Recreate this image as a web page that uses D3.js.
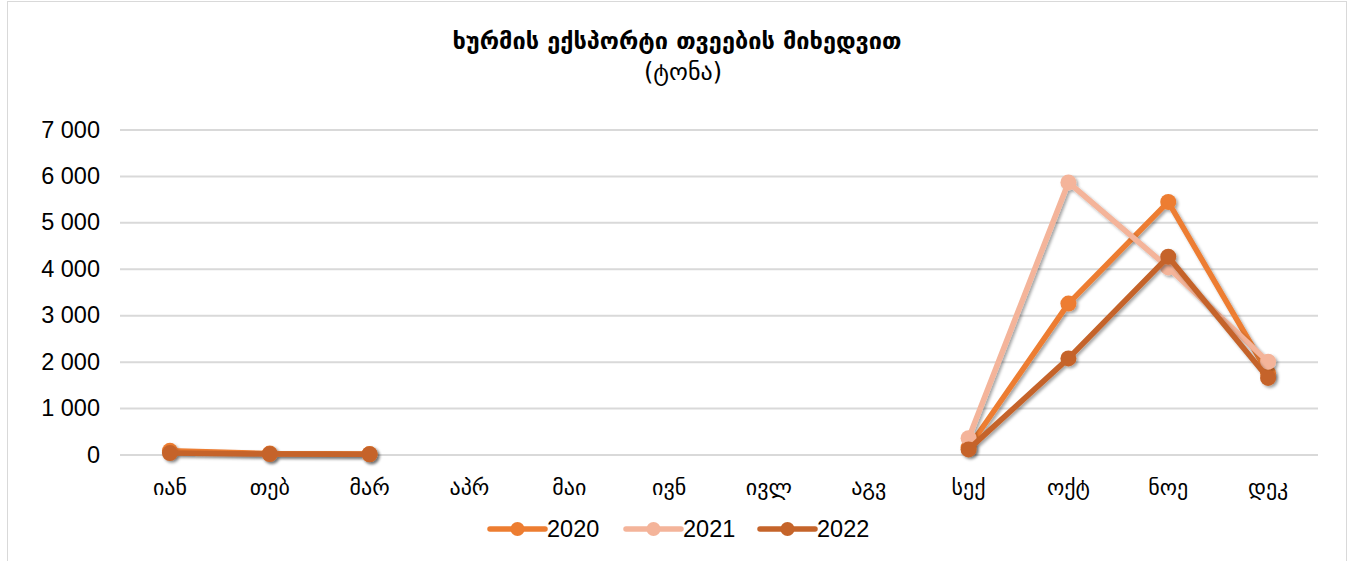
<!DOCTYPE html>
<html><head><meta charset="utf-8">
<script src="https://cdn.jsdelivr.net/npm/d3@7/dist/d3.min.js"></script>
<style>body{margin:0;background:#fff;}svg{display:block;}</style>
</head><body>
<svg id="c" width="1354" height="561"></svg>
<script>
const categories = ["იან","თებ","მარ","აპრ","მაი","ივნ","ივლ","აგვ","სექ","ოქტ","ნოე","დეკ"];
const seriesNames = ["2020","2021","2022"];
const values2020 = [80, 20, 10, null, null, null, null, null, 150, 3250, 5440, 1750];
const values2021 = [null, null, null, null, null, null, null, null, 350, 5860, 4030, 2000];
const values2022 = [30, 10, 5, null, null, null, null, null, 110, 2070, 4260, 1650];
const yTicks = [0,1000,2000,3000,4000,5000,6000,7000];
const colors = ["#ED7D31","#F4B49A","#C5642A"];
const title = "ხურმის ექსპორტი თვეების მიხედვით";
const subtitle = "(ტონა)";

(function(){
const svg = d3.select("#c");
const defs = svg.append("defs");
const f = defs.append("filter").attr("id","sh").attr("x","-20%").attr("y","-20%").attr("width","140%").attr("height","140%");
f.append("feDropShadow").attr("dx",2).attr("dy",2).attr("stdDeviation",1.5).attr("flood-color","#000").attr("flood-opacity",0.35);

svg.append("rect").attr("x",7.5).attr("y",1.5).attr("width",1339).attr("height",570)
  .attr("fill","#fff").attr("stroke","#d9d9d9").attr("stroke-width",1);

const mLeft = 120, mRight = 1318, mTop = 129.5, mBottom = 454.5;
const x = d3.scaleBand().domain(categories).range([mLeft, mRight]);
const y = d3.scaleLinear().domain([0,7000]).range([mBottom, mTop]);

svg.append("text").attr("x",677).attr("y",49).attr("text-anchor","middle")
  .attr("font-family","DejaVu Sans").attr("font-size",23.5).attr("font-weight","bold").attr("fill","#000").text(title);
svg.append("text").attr("x",683).attr("y",80).attr("text-anchor","middle")
  .attr("font-family","DejaVu Sans").attr("font-size",24).attr("fill","#000").text(subtitle);

const gy = svg.append("g").attr("transform",`translate(${mLeft},0)`)
  .call(d3.axisLeft(y).tickValues(yTicks).tickSize(-(mRight-mLeft)).tickPadding(20)
    .tickFormat(d => d3.format(",")(d).replace(/,/g," ")));
gy.select(".domain").remove();
gy.selectAll(".tick line").attr("stroke","#d9d9d9").attr("stroke-width",2);
gy.selectAll(".tick text").attr("font-family","Liberation Sans, Arial").attr("font-size",23.5).attr("fill","#000");

const gx = svg.append("g").attr("transform",`translate(0,${mBottom})`)
  .call(d3.axisBottom(x).tickSize(0).tickPadding(25));
gx.select(".domain").remove();
gx.selectAll(".tick text").attr("font-family","DejaVu Sans").attr("font-size",22).attr("fill","#000");

const allSeries = [values2020, values2021, values2022];
const line = d3.line().defined(d => d != null)
  .x((d,i) => x(categories[i]) + x.bandwidth()/2).y(d => y(d));
allSeries.forEach((vals, si) => {
  const g = svg.append("g").attr("filter","url(#sh)");
  g.append("path").datum(vals).attr("d", line).attr("fill","none")
    .attr("stroke",colors[si]).attr("stroke-width",5.5).attr("stroke-linejoin","round");
  g.selectAll("circle").data(vals.map((v,i)=>({v,i})).filter(d=>d.v!=null)).join("circle")
    .attr("cx", d => x(categories[d.i]) + x.bandwidth()/2).attr("cy", d => y(d.v))
    .attr("r",8).attr("fill",colors[si]);
});

const legX = [490, 626, 760];
seriesNames.forEach((s, i) => {
  const g = svg.append("g").attr("transform",`translate(${legX[i]},529)`);
  g.append("line").attr("x1",0).attr("x2",55).attr("stroke",colors[i]).attr("stroke-width",5.5).attr("stroke-linecap","round");
  g.append("circle").attr("cx",27.5).attr("r",7).attr("fill",colors[i]);
  g.append("text").attr("x",57).attr("y",8).attr("font-family","Liberation Sans, Arial").attr("font-size",23.5).attr("fill","#000").text(s);
});
})();
</script>
</body></html>
